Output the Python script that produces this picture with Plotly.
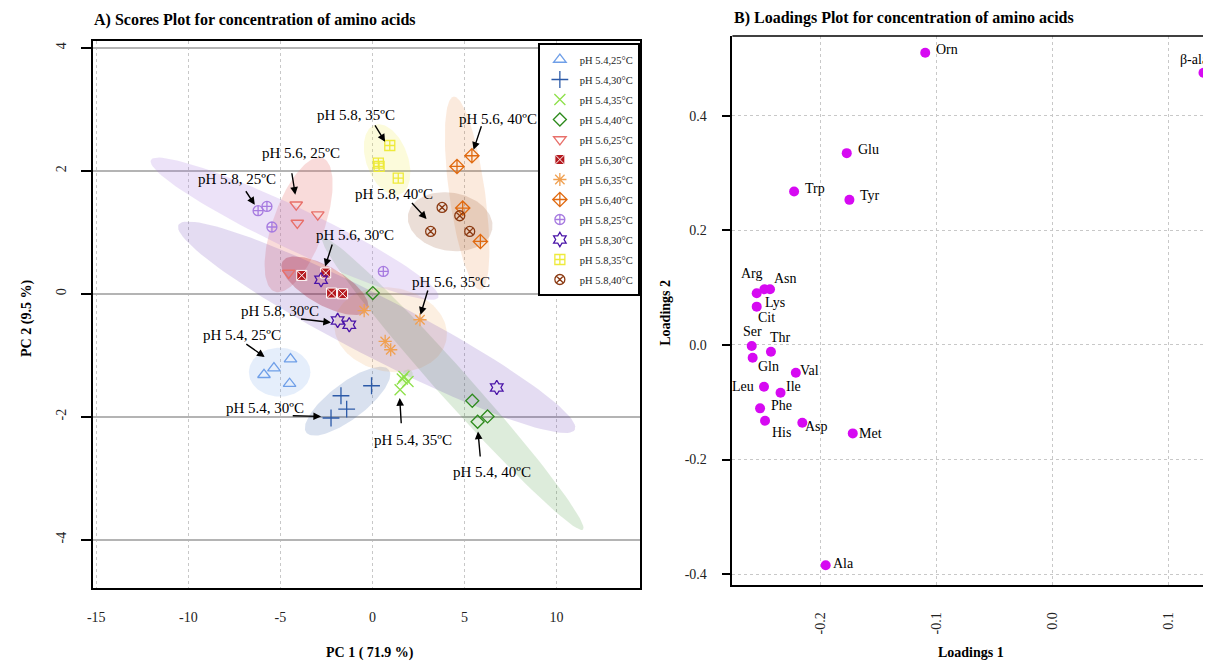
import numpy as np
import plotly.graph_objects as go

# ---------------- data: scores (panel A) ----------------
groups = ["pH 5.4,25°C", "pH 5.4,30°C", "pH 5.4,35°C", "pH 5.4,40°C",
          "pH 5.6,25°C", "pH 5.6,30°C", "pH 5.6,35°C", "pH 5.6,40°C",
          "pH 5.8,25°C", "pH 5.8,30°C", "pH 5.8,35°C", "pH 5.8,40°C"]

pc1_54_25 = [-5.89, -5.35, -4.45, -4.50]
pc2_54_25 = [-1.317, -1.208, -1.062, -1.463]
pc1_54_30 = [-2.25, -1.71, -1.40, -0.05]
pc2_54_30 = [-2.021, -1.659, -1.875, -1.496]
pc1_54_35 = [1.50, 1.62, 1.93, 1.71]
pc2_54_35 = [-1.561, -1.387, -1.426, -1.345]
pc1_54_40 = [0.02, 5.42, 5.71, 6.25]
pc2_54_40 = [0.011, -1.740, -2.081, -1.995]
pc1_56_25 = [-4.14, -2.97, -4.08, -4.55]
pc2_56_25 = [1.447, 1.285, 1.150, 0.337]
pc1_56_30 = [-3.84, -2.54, -2.22, -1.62]
pc2_56_30 = [0.298, 0.337, 0.011, 0.000]
pc1_56_35 = [-0.45, 2.58, 0.69, 0.99]
pc2_56_35 = [-0.276, -0.423, -0.776, -0.911]
pc1_56_40 = [5.40, 4.59, 4.90, 5.86]
pc2_56_40 = [2.244, 2.070, 1.393, 0.850]
pc1_58_25 = [-6.21, -5.73, -5.46, 0.59]
pc2_58_25 = [1.350, 1.420, 1.085, 0.363]
pc1_58_30 = [-2.79, -1.89, -1.26, 6.75]
pc2_58_30 = [0.228, -0.434, -0.504, -1.524]
pc1_58_35 = [0.94, 0.32, 0.36, 1.40]
pc2_58_35 = [2.411, 2.125, 2.070, 1.881]
pc1_58_40 = [3.78, 4.74, 3.16, 5.28]
pc2_58_40 = [1.403, 1.268, 1.013, 1.013]

pc1_all = [pc1_54_25, pc1_54_30, pc1_54_35, pc1_54_40, pc1_56_25, pc1_56_30,
           pc1_56_35, pc1_56_40, pc1_58_25, pc1_58_30, pc1_58_35, pc1_58_40]
pc2_all = [pc2_54_25, pc2_54_30, pc2_54_35, pc2_54_40, pc2_56_25, pc2_56_30,
           pc2_56_35, pc2_56_40, pc2_58_25, pc2_58_30, pc2_58_35, pc2_58_40]

# group ellipses: centre (PC1, PC2), semi-axes (PC1 units), screen angle (deg)
ell_cx = [-5.04, -1.35, 1.82, 4.36, -4.01, -2.58, 0.983, 5.14, -4.23, 0.227, 0.794, 4.22]
ell_cy = [-1.276, -1.748, -1.366, -1.463, 1.122, 0.130, -0.585, 1.634, 1.057, -0.545, 2.179, 1.171]
ell_a = [1.67, 2.81, 0.49, 10.59, 3.84, 2.65, 3.08, 5.27, 8.64, 12.10, 2.00, 2.32]
ell_b = [1.32, 0.97, 0.32, 0.86, 1.40, 1.03, 2.27, 0.97, 1.13, 1.62, 1.13, 1.57]
ell_ang = [0, 37, 60, -48.1, 70.3, -29.5, -10, -82, -25.4, -27.2, -70, -10]

# callout labels: text position, arrow tail, arrow head (data units)
call_text = ["pH 5.4, 25ºC", "pH 5.4, 30ºC", "pH 5.4, 35ºC", "pH 5.4, 40ºC",
             "pH 5.6, 25ºC", "pH 5.6, 30ºC", "pH 5.6, 35ºC", "pH 5.6, 40ºC",
             "pH 5.8, 25ºC", "pH 5.8, 30ºC", "pH 5.8, 35ºC", "pH 5.8, 40ºC"]
call_tx = [-7.08, -5.85, 2.215, 6.48, -3.87, -0.95, 4.24, 6.84, -7.38, -5.04, -0.88, 1.17]
call_ty = [-0.667, -1.859, -2.374, -2.899, 2.288, 0.948, 0.184, 2.846, 1.865, -0.276, 2.911, 1.626]
call_ax = [-6.93, -4.41, 1.567, 5.86, -4.39, -2.16, 3.03, 5.94, -6.93, -3.96, 0.09, 2.07]
call_ay = [-0.802, -1.984, -2.130, -2.671, 1.984, 0.824, 0.076, 2.748, 1.691, -0.407, 2.764, 1.501]
call_hx = [-5.85, -2.79, 1.48, 5.73, -4.19, -2.57, 2.61, 5.49, -6.39, -2.25, 0.686, 2.94]
call_hy = [-1.029, -1.995, -1.696, -2.239, 1.610, 0.444, -0.341, 2.341, 1.447, -0.467, 2.472, 1.215]

x_ticks_a = [-15, -10, -5, 0, 5, 10]
x_ticklabels_a = ["-15", "-10", "-5", "0", "5", "10"]
y_ticks_a = [-4, -2, 0, 2, 4]
y_ticklabels_a = ["-4", "-2", "0", "2", "4"]

# ---------------- data: loadings (panel B) ----------------
aa_names = ["Orn", "β-ala", "Glu", "Trp", "Tyr", "Arg", "Lys", "Asn", "Cit", "Ser",
            "Thr", "Gln", "Val", "Leu", "Ile", "Phe", "His", "Asp", "Met", "Ala"]
load1 = [-0.1099, 0.1305, -0.1777, -0.2232, -0.1754, -0.2555, -0.2489, -0.2440, -0.2555, -0.2598,
         -0.2432, -0.2590, -0.2217, -0.2492, -0.2349, -0.2526, -0.2483, -0.2161, -0.1725, -0.1959]
load2 = [0.5105, 0.4755, 0.3351, 0.2680, 0.2535, 0.0904, 0.0974, 0.0974, 0.0670, -0.0017,
         -0.0117, -0.0222, -0.0484, -0.0729, -0.0834, -0.1107, -0.1323, -0.1358, -0.1544, -0.3846]
x_ticks_b = [-0.2, -0.1, 0.0, 0.1]
x_ticklabels_b = ["-0.2", "-0.1", "0.0", "0.1"]
y_ticks_b = [-0.4, -0.2, 0.0, 0.2, 0.4]
y_ticklabels_b = ["-0.4", "-0.2", "0.0", "0.2", "0.4"]

# label offsets in pixels (right, down) and anchors
lab_dx = [22, 8, 22, 21, 21, -5, 11, 15, 10, 1, 10, 16, 14, -21, 13, 21, 16, 14, 18, 18]
lab_dy = [-3, -13, -4, -3, -4, -20, 13, -11, 11, -14, -14, 9, -2, 0, -6, -3, 12, 4, 0, -2]
lab_anchor = ["center", "right"] + ["center"] * 18

# ---------------- styles ----------------
colors = ["#6F9FE8", "#2C5AA8", "#8EE04A", "#2E8B1E", "#E8706A", "#B5191E",
          "#F0A050", "#E06A10", "#A77BE0", "#4A14A8", "#EEEA3A", "#8B3A12"]
ell_alpha = [0.18, 0.18, 0.2, 0.16, 0.25, 0.3, 0.17, 0.14, 0.22, 0.15, 0.18, 0.17]
symbols = ["triangle-up-open", "cross-thin-open", "x-thin-open", "diamond-open",
           "triangle-down-open", "square-x", "asterisk-open", "diamond-cross-open",
           "circle-cross-open", "hexagram-open", "square-cross-open", "circle-x-open"]
sizes = [11, 12, 11, 10, 11, 10, 11, 11, 10, 11, 10, 10]
FONT = "Liberation Serif"
OFF = 8                      # page margin of the html body
W, H = 1211 - OFF, 661 - OFF
ASPECT = 61.5 / 18.51        # screen px per PC2 unit / px per PC1 unit


def px(x):
    return (x - OFF) / W


def py(y):
    return 1 - (y - OFF) / H


def rgba(hexc, a):
    h = hexc.lstrip("#")
    return "rgba(%d,%d,%d,%.3f)" % (int(h[0:2], 16), int(h[2:4], 16), int(h[4:6], 16), a)


fig = go.Figure()

# ellipses
t = np.linspace(0, 2 * np.pi, 120)
for i in range(12):
    th = np.deg2rad(ell_ang[i])
    ex = ell_cx[i] + ell_a[i] * np.cos(t) * np.cos(th) - ell_b[i] * np.sin(t) * np.sin(th)
    ey = ell_cy[i] + (ell_a[i] * np.cos(t) * np.sin(th) + ell_b[i] * np.sin(t) * np.cos(th)) / ASPECT
    fig.add_trace(go.Scatter(x=ex, y=ey, mode="lines", fill="toself",
                             fillcolor=rgba(colors[i], ell_alpha[i]), line=dict(width=0),
                             hoverinfo="skip", showlegend=False, xaxis="x", yaxis="y"))

# score points
for i in range(12):
    if symbols[i] == "square-x":
        mk = dict(symbol=symbols[i], size=sizes[i], color=colors[i],
                  line=dict(color="white", width=1))
    else:
        mk = dict(symbol=symbols[i], size=sizes[i], color=colors[i],
                  line=dict(color=colors[i], width=1.3))
    fig.add_trace(go.Scatter(x=pc1_all[i], y=pc2_all[i], mode="markers", name=groups[i],
                             marker=mk, legendgroup=groups[i], xaxis="x", yaxis="y"))

# loadings
fig.add_trace(go.Scatter(x=load1, y=load2, mode="markers", showlegend=False,
                         marker=dict(color="#D60AF2", size=10), xaxis="x2", yaxis="y2"))

ann = []
for i in range(12):
    ann.append(dict(x=call_hx[i], y=call_hy[i], ax=call_ax[i], ay=call_ay[i],
                    xref="x", yref="y", axref="x", ayref="y", text="", showarrow=True,
                    arrowhead=2, arrowsize=1.1, arrowwidth=1.4, arrowcolor="black"))
    ann.append(dict(x=call_tx[i], y=call_ty[i], xref="x", yref="y", text=call_text[i],
                    showarrow=False, xanchor="center", yanchor="middle",
                    font=dict(family=FONT, size=15, color="black")))

for i in range(len(aa_names)):
    ann.append(dict(x=load1[i], y=load2[i], xref="x2", yref="y2", text=aa_names[i],
                    showarrow=False, xshift=lab_dx[i], yshift=-lab_dy[i],
                    xanchor=lab_anchor[i], yanchor="middle",
                    font=dict(family=FONT, size=14, color="black")))

# titles
ann += [
    dict(x=px(86), y=py(20), xref="paper", yref="paper", xanchor="left", yanchor="middle",
         text="<b>A) Scores Plot for concentration of amino acids</b>", showarrow=False,
         font=dict(family=FONT, size=16, color="black")),
    dict(x=px(730), y=py(18), xref="paper", yref="paper", xanchor="left", yanchor="middle",
         text="<b>B) Loadings Plot for concentration of amino acids</b>", showarrow=False,
         font=dict(family=FONT, size=16, color="black")),
    dict(x=px(366), y=py(653), xref="paper", yref="paper", xanchor="center", yanchor="middle",
         text="<b>PC 1 ( 71.9 %)</b>",
         showarrow=False, font=dict(family=FONT, size=14, color="black")),
    dict(x=px(21), y=py(318), xref="paper", yref="paper", xanchor="center", yanchor="middle",
         text="<b>PC 2 (9.5 %)</b>",
         showarrow=False, textangle=-90, font=dict(family=FONT, size=14, color="black")),
    dict(x=px(970), y=py(652), xref="paper", yref="paper", xanchor="center", yanchor="middle",
         text="<b>Loadings 1</b>",
         showarrow=False, font=dict(family=FONT, size=14, color="black")),
    dict(x=px(662), y=py(313), xref="paper", yref="paper", xanchor="center", yanchor="middle",
         text="<b>Loadings 2</b>",
         showarrow=False, textangle=-90, font=dict(family=FONT, size=14, color="black")),
]

fig.update_layout(
    width=W, height=H, margin=dict(l=0, r=0, t=0, b=0),
    paper_bgcolor="white", plot_bgcolor="white",
    font=dict(family=FONT, size=14, color="#222"),
    annotations=ann,
    shapes=[dict(type="line", xref="x2 domain", yref="y2 domain", x0=0, x1=1, y0=1, y1=1,
                 line=dict(color="black", width=1.5))],
    legend=dict(x=px(637), xanchor="right", y=py(43), yanchor="top",
                bgcolor="white", bordercolor="black", borderwidth=2,
                font=dict(family=FONT, size=10.5, color="#222"), itemwidth=30,
                tracegroupgap=1),
    xaxis=dict(domain=[px(87.3), px(637)], range=[-15.18, 14.52],
               tickvals=x_ticks_a, ticktext=x_ticklabels_a,
               showgrid=True, gridcolor="#c8c8c8", griddash="dot", gridwidth=1,
               zeroline=False, showline=True, mirror=True, linecolor="black", linewidth=1.5,
               ticks="", ticklabelstandoff=15, tickfont=dict(size=14, color="#222")),
    yaxis=dict(domain=[py(588.3), py(41)], range=[-4.79, 4.11],
               tickvals=y_ticks_a, ticktext=y_ticklabels_a,
               showgrid=True, gridcolor="#b4b4b4", gridwidth=1.5,
               zeroline=False, showline=True, mirror=True, linecolor="black", linewidth=1.5,
               ticks="outside", ticklen=10, tickwidth=1.5, tickcolor="black", tickangle=-90,
               ticklabelstandoff=10, tickfont=dict(size=14, color="#222")),
    xaxis2=dict(domain=[px(730), 1.0], range=[-0.2765, 0.137],
                tickvals=x_ticks_b, ticktext=x_ticklabels_b, tickangle=-90,
                showgrid=True, gridcolor="#c8c8c8", griddash="dot", gridwidth=1,
                zeroline=False, showline=True, mirror=False, linecolor="black", linewidth=1.5,
                ticks="", ticklabelstandoff=20, tickfont=dict(size=14, color="#222"), anchor="y2"),
    yaxis2=dict(domain=[py(585), py(36)], range=[-0.4192, 0.5397],
                tickvals=y_ticks_b, ticktext=y_ticklabels_b,
                showgrid=True, gridcolor="#c8c8c8", griddash="dot", gridwidth=1,
                zeroline=False, showline=True, mirror=False, linecolor="black", linewidth=1.5,
                ticks="outside", ticklen=9, tickwidth=1.5, tickcolor="black",
                ticklabelstandoff=12, tickfont=dict(size=14, color="#222"), anchor="x2"),
)

fig.write_html("out.html")
